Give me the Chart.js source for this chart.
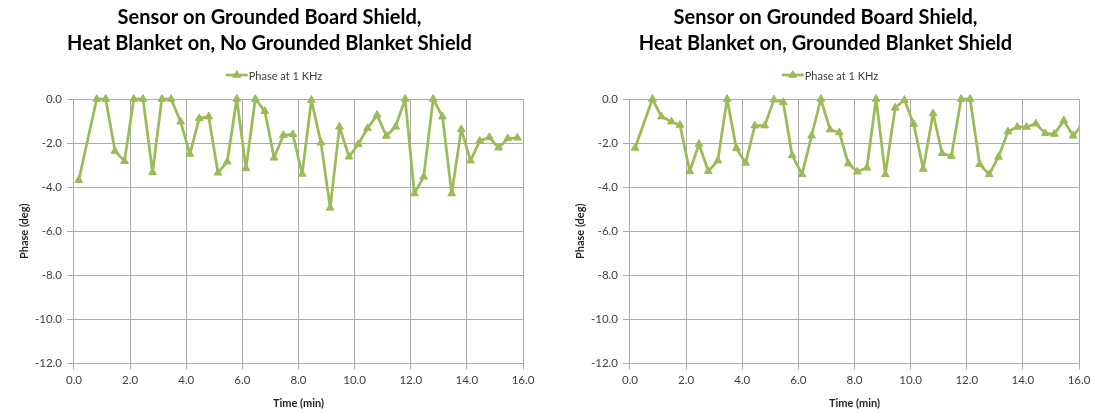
<!DOCTYPE html>
<html>
<head>
<meta charset="utf-8">
<title>Phase at 1 KHz</title>
<script src="https://cdn.jsdelivr.net/npm/chart.js@4/dist/chart.umd.min.js"></script>
<style>
  html, body { margin: 0; padding: 0; background: #ffffff; overflow: hidden; }
  #wrap { position: relative; width: 1101px; height: 414px; }
  canvas { position: absolute; top: 0; }
  #leftChart { left: 0; }
  #rightChart { left: 556px; }
</style>
</head>
<body>
<div id="wrap">
  <canvas id="leftChart" width="548" height="414"></canvas>
  <canvas id="rightChart" width="548" height="414"></canvas>
</div>
<script>
"use strict";

/* ---------- data ---------- */

const SERIES_LABEL = "Phase at 1 KHz";
const X_TITLE = "Time (min)";
const Y_TITLE = "Phase (deg)";

const LEFT_TITLE = ["Sensor on Grounded Board Shield,", "Heat Blanket on, No Grounded Blanket Shield"];
const RIGHT_TITLE = ["Sensor on Grounded Board Shield,", "Heat Blanket on, Grounded Blanket Shield"];

const X_TICKS = [0, 2, 4, 6, 8, 10, 12, 14, 16];
const Y_TICKS = [-12, -10, -8, -6, -4, -2, 0];

// no grounded blanket shield
const leftTime = [0.17, 0.81, 1.13, 1.46, 1.8, 2.13, 2.46, 2.8, 3.13, 3.46, 3.8, 4.13, 4.46, 4.8,
  5.13, 5.46, 5.8, 6.13, 6.46, 6.8, 7.13, 7.46, 7.8, 8.13, 8.46, 8.8, 9.13, 9.46, 9.8, 10.13,
  10.46, 10.8, 11.13, 11.46, 11.8, 12.13, 12.46, 12.8, 13.13, 13.46, 13.8, 14.13, 14.46, 14.8,
  15.13, 15.46, 15.8];
const leftPhase = [-3.68, 0, 0, -2.36, -2.82, 0, 0, -3.33, 0, 0, -1.03, -2.5, -0.88, -0.8,
  -3.35, -2.85, 0, -3.15, 0, -0.55, -2.67, -1.64, -1.6, -3.4, -0.05, -1.98, -4.94, -1.26, -2.62, -2.05,
  -1.33, -0.73, -1.68, -1.26, 0, -4.29, -3.53, 0, -0.8, -4.29, -1.38, -2.8, -1.9, -1.74,
  -2.21, -1.79, -1.76];

// grounded blanket shield
const rightTime = [0.18, 0.8, 1.12, 1.48, 1.78, 2.13, 2.46, 2.79, 3.13, 3.46, 3.79, 4.12, 4.45, 4.8,
  5.13, 5.46, 5.78, 6.13, 6.47, 6.8, 7.13, 7.46, 7.78, 8.1, 8.44, 8.77, 9.1, 9.45, 9.78, 10.11,
  10.45, 10.8, 11.12, 11.45, 11.8, 12.12, 12.46, 12.8, 13.13, 13.47, 13.8, 14.13, 14.46, 14.8,
  15.12, 15.46, 15.79, 16.12];
const rightPhase = [-2.22, 0, -0.8, -1.03, -1.18, -3.28, -2.04, -3.28, -2.8, 0, -2.24, -2.9, -1.21, -1.21,
  -0.03, -0.15, -2.56, -3.42, -1.67, 0, -1.39, -1.52, -2.93, -3.3, -3.12, 0, -3.42, -0.4, -0.05, -1.14,
  -3.18, -0.66, -2.46, -2.6, 0, 0, -2.96, -3.42, -2.63, -1.48, -1.27, -1.27, -1.12, -1.56,
  -1.59, -0.98, -1.67, -1.17];

/* ---------- style ---------- */

const GREEN = "#9bbb59";
const GRID = "#ababab";
const TEXT = "#404040";
const FONT = "Lato";

// line + triangle sample above the plot, like the Excel legend
const legendSample = {
  id: "legendSample",
  afterDraw(chart) {
    const ctx = chart.ctx;
    const cy = chart.chartArea.top - 24;
    ctx.save();
    ctx.font = "11px " + FONT;
    const tw = ctx.measureText(SERIES_LABEL).width;
    const x0 = chart.width / 2 - (23 + tw) / 2;

    ctx.strokeStyle = GREEN;
    ctx.fillStyle = GREEN;
    ctx.lineWidth = 2.75;
    ctx.beginPath();
    ctx.moveTo(x0, cy);
    ctx.lineTo(x0 + 22, cy);
    ctx.stroke();
    ctx.lineWidth = 1;
    Chart.helpers.drawPoint(ctx, { pointStyle: "triangle", radius: 4.5, borderWidth: 1, rotation: 0 }, x0 + 11, cy);

    ctx.fillStyle = TEXT;
    ctx.textBaseline = "middle";
    ctx.textAlign = "left";
    ctx.fillText(SERIES_LABEL, x0 + 23, cy + 1);
    ctx.restore();
  }
};

function makeChart(id, title, times, phases) {
  const points = times.map((t, i) => ({ x: t, y: phases[i] }));

  return new Chart(document.getElementById(id), {
    type: "scatter",
    data: {
      datasets: [{
        label: SERIES_LABEL,
        data: points,
        showLine: true,
        borderColor: GREEN,
        backgroundColor: GREEN,
        borderWidth: 2.75,
        borderJoinStyle: "round",
        pointStyle: "triangle",
        pointRadius: 4.5,
        pointBorderWidth: 1,
        pointBackgroundColor: GREEN,
        pointBorderColor: GREEN,
        clip: { left: 6, top: 8, right: 0, bottom: 6 }
      }]
    },
    options: {
      responsive: false,
      animation: false,
      layout: { padding: { left: 16, right: 25, top: 0, bottom: 0 } },
      plugins: {
        legend: { display: false },
        tooltip: { enabled: false },
        title: {
          display: true,
          text: title,
          color: "#000000",
          font: { family: FONT, size: 20, weight: "bold", lineHeight: 26 / 20 },
          padding: { top: 5, bottom: 42 }
        }
      },
      scales: {
        x: {
          type: "linear",
          min: X_TICKS[0],
          max: X_TICKS[X_TICKS.length - 1],
          afterBuildTicks: axis => { axis.ticks = X_TICKS.map(v => ({ value: v })); },
          ticks: {
            color: TEXT,
            padding: 4,
            maxRotation: 0,
            font: { family: FONT, size: 11.5 },
            callback: v => Number(v).toFixed(1)
          },
          grid: { color: GRID, tickColor: GRID, tickLength: 6, lineWidth: 1 },
          border: { color: GRID },
          title: {
            display: true,
            text: X_TITLE,
            color: "#262626",
            font: { family: FONT, size: 11, weight: "bold" },
            padding: { top: 6, bottom: 3.5 }
          }
        },
        y: {
          type: "linear",
          min: Y_TICKS[0],
          max: Y_TICKS[Y_TICKS.length - 1],
          afterBuildTicks: axis => { axis.ticks = Y_TICKS.map(v => ({ value: v })); },
          ticks: {
            color: TEXT,
            padding: 5,
            font: { family: FONT, size: 11.5 },
            callback: v => Number(v).toFixed(1)
          },
          grid: { color: GRID, tickColor: GRID, tickLength: 7, lineWidth: 1 },
          border: { color: GRID },
          title: {
            display: true,
            text: Y_TITLE,
            color: "#262626",
            font: { family: FONT, size: 11, weight: "bold", lineHeight: 1 },
            padding: { top: 3, bottom: 0 }
          }
        }
      }
    },
    plugins: [legendSample]
  });
}

makeChart("leftChart", LEFT_TITLE, leftTime, leftPhase);
makeChart("rightChart", RIGHT_TITLE, rightTime, rightPhase);
</script>
</body>
</html>
